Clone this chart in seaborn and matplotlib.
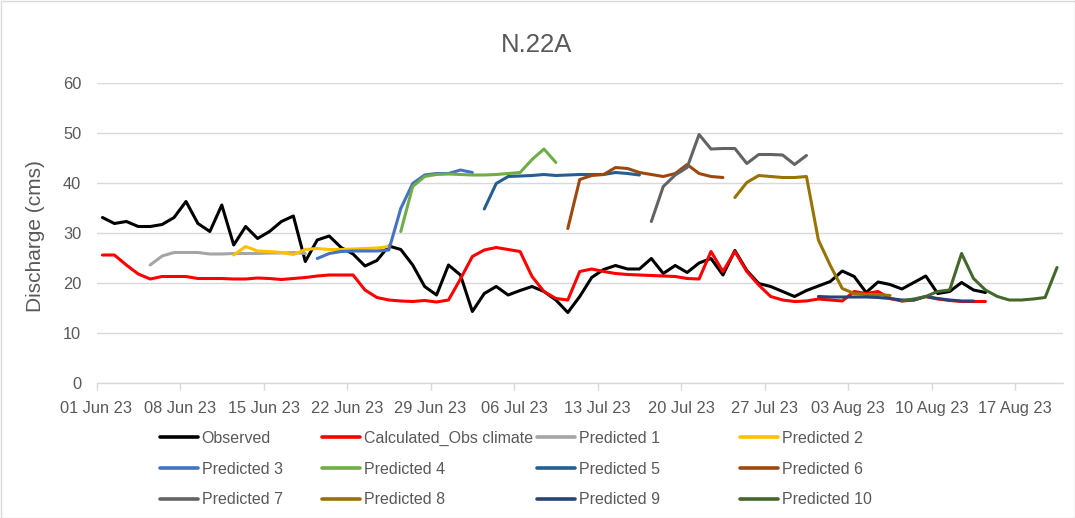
import matplotlib
matplotlib.use("Agg")
import matplotlib.pyplot as plt
import matplotlib.dates as mdates
from matplotlib.lines import Line2D
from matplotlib.patches import Rectangle
import pandas as pd
import seaborn as sns

# ---- data: daily discharge (cms) for station N.22A ----
start_date = pd.Timestamp("2023-06-01")

observed = [33.1, 31.9, 32.3, 31.3, 31.3, 31.7, 33.1, 36.3, 31.9, 30.3,
            35.6, 27.6, 31.3, 28.9, 30.3, 32.3, 33.4, 24.3, 28.6, 29.4,
            27.1, 25.8, 23.4, 24.5, 27.4, 26.7, 23.6, 19.3, 17.6, 23.6,
            21.6, 14.3, 17.9, 19.3, 17.6, 18.5, 19.3, 18.3, 16.6, 14.1,
            17.3, 21.1, 22.7, 23.5, 22.8, 22.8, 24.9, 21.9, 23.5, 22.1,
            24.0, 24.9, 21.6, 26.5, 22.5, 19.9, 19.3, 18.3, 17.3, 18.5,
            19.4, 20.3, 22.4, 21.3, 18.1, 20.2, 19.7, 18.8, 20.1, 21.4,
            17.9, 18.3, 20.1, 18.6, 18.1]

calculated_obs_climate = [25.6, 25.6, 23.6, 21.8, 20.8, 21.3, 21.3, 21.3, 20.9, 20.9,
                          20.9, 20.8, 20.8, 21.0, 20.9, 20.7, 20.9, 21.1, 21.4, 21.6,
                          21.6, 21.6, 18.6, 17.1, 16.6, 16.4, 16.3, 16.5, 16.2, 16.6,
                          20.8, 25.3, 26.6, 27.1, 26.7, 26.3, 21.3, 18.3, 16.9, 16.6,
                          22.3, 22.8, 22.3, 21.9, 21.7, 21.6, 21.5, 21.4, 21.3, 20.9,
                          20.8, 26.3, 22.3, 26.3, 22.3, 19.6, 17.3, 16.6, 16.3, 16.4,
                          16.8, 16.6, 16.4, 18.3, 17.9, 18.3, 16.9, 16.4, 16.6, 17.3,
                          16.8, 16.5, 16.3, 16.3, 16.3]

# 14-day forecasts, issued every 7 days (start = day offset from 1 Jun)
predicted_starts = [4, 11, 18, 25, 32, 39, 46, 53, 60, 67]
predicted_1 = [23.6, 25.4, 26.1, 26.1, 26.1, 25.8, 25.8, 25.9, 25.9, 25.9, 26.0, 26.0, 26.1, 25.9]
predicted_2 = [25.6, 27.3, 26.4, 26.3, 26.1, 25.7, 26.7, 26.9, 26.7, 26.7, 26.8, 26.9, 27.0, 27.3]
predicted_3 = [24.9, 25.9, 26.3, 26.4, 26.4, 26.4, 26.6, 34.9, 39.9, 41.6, 41.9, 41.9, 42.6, 42.1]
predicted_4 = [30.3, 39.3, 41.3, 41.7, 41.8, 41.7, 41.6, 41.6, 41.7, 41.9, 42.1, 44.7, 46.8, 44.1]
predicted_5 = [34.8, 39.9, 41.3, 41.4, 41.5, 41.7, 41.5, 41.6, 41.7, 41.7, 41.7, 42.1, 41.9, 41.6]
predicted_6 = [30.9, 40.7, 41.5, 41.7, 43.1, 42.9, 42.1, 41.7, 41.3, 41.9, 43.7, 41.9, 41.3, 41.1]
predicted_7 = [32.3, 39.3, 41.6, 43.1, 49.7, 46.8, 46.9, 46.9, 43.9, 45.7, 45.7, 45.6, 43.7, 45.5]
predicted_8 = [37.1, 40.1, 41.5, 41.3, 41.1, 41.1, 41.3, 28.6, 23.5, 18.9, 17.9, 17.7, 17.7, 17.5]
predicted_9 = [17.3, 17.2, 17.2, 17.2, 17.2, 17.1, 16.9, 16.6, 16.6, 17.3, 16.9, 16.6, 16.4, 16.4]
predicted_10 = [16.4, 16.8, 17.3, 18.3, 18.6, 25.9, 20.9, 18.6, 17.3, 16.6, 16.6, 16.8, 17.1, 23.1]

series_names = ["Observed", "Calculated_Obs climate"] + [f"Predicted {i}" for i in range(1, 11)]
series_values = [observed, calculated_obs_climate, predicted_1, predicted_2, predicted_3,
                 predicted_4, predicted_5, predicted_6, predicted_7, predicted_8,
                 predicted_9, predicted_10]
series_starts = [0, 0] + predicted_starts

series_colors = ["#000000", "#FF0000", "#A5A5A5", "#FFC000", "#4472C4", "#70AD47",
                 "#255E91", "#9E480E", "#636363", "#997300", "#264478", "#43682B"]

# ---- long table: each daily value sits in the middle of its day ----
rows = []
for name, start, vals in zip(series_names, series_starts, series_values):
    for i, v in enumerate(vals):
        rows.append({"date": start_date + pd.Timedelta(days=start + i, hours=12),
                     "discharge": v, "series": name})
df = pd.DataFrame(rows)
palette = dict(zip(series_names, series_colors))

# ---- style ----
sns.set_theme(style="white")
plt.rcParams["font.family"] = ["Liberation Sans", "DejaVu Sans"]
plt.rcParams["lines.solid_joinstyle"] = "round"
text_color = "#595959"
grid_color = "#D9D9D9"

W, H = 1075, 518
fig = plt.figure(figsize=(W / 100, H / 100), dpi=100)
ax = fig.add_axes([96.5 / W, 1 - 383 / H, (1063 - 96.5) / W, 300 / H])

sns.lineplot(data=df, x="date", y="discharge", hue="series", hue_order=series_names,
             palette=palette, estimator=None, linewidth=2.2, legend=False, ax=ax)

# ---- axes ----
ax.set_xlim(start_date, pd.Timestamp("2023-08-21"))
ax.set_xticks(pd.date_range(start_date, "2023-08-17", freq="7D"))
ax.xaxis.set_major_formatter(mdates.DateFormatter("%d %b %y"))
ax.set_ylim(0, 60)
ax.set_yticks(range(0, 61, 10))
ax.grid(axis="y", color=grid_color, linewidth=1)
ax.grid(axis="x", visible=False)
ax.set_axisbelow(True)
for side in ["left", "top", "right"]:
    ax.spines[side].set_visible(False)
ax.spines["bottom"].set_color(grid_color)
ax.spines["bottom"].set_linewidth(1)
ax.tick_params(axis="x", bottom=True, length=5, width=1, color=grid_color,
               labelsize=11.8, labelcolor=text_color, pad=8)
ax.tick_params(axis="y", left=False, length=0, labelsize=11.8, labelcolor=text_color, pad=11)
ax.set_xlabel("")
ax.set_ylabel("Discharge (cms)", fontsize=15, color=text_color)
ax.yaxis.set_label_coords((45 - 96.5) / (1063 - 96.5), 0.49)

fig.text(537 / W, 1 - 45 / H, "N.22A", ha="center", va="center",
         fontsize=18.5, color=text_color)

# ---- legend: four columns, three rows ----
handles = [Line2D([], [], color=c, linewidth=2.6) for c in series_colors]
col_x = [160, 322, 537, 740]
for c in range(4):
    idx = [c, c + 4, c + 8]
    fig.legend([handles[i] for i in idx], [series_names[i] for i in idx],
               loc="center left", bbox_to_anchor=(col_x[c] / W, 1 - 469 / H),
               frameon=False, fontsize=11.5, handlelength=2.35, handletextpad=0.25,
               labelspacing=0.99, borderpad=0, borderaxespad=0, labelcolor=text_color)

fig.patches.append(Rectangle((0.5 / W, 0.5 / H), 1 - 1 / W, 1 - 1 / H,
                             transform=fig.transFigure, fill=False,
                             edgecolor=grid_color, linewidth=1))

fig.savefig("out.png", dpi=100)
